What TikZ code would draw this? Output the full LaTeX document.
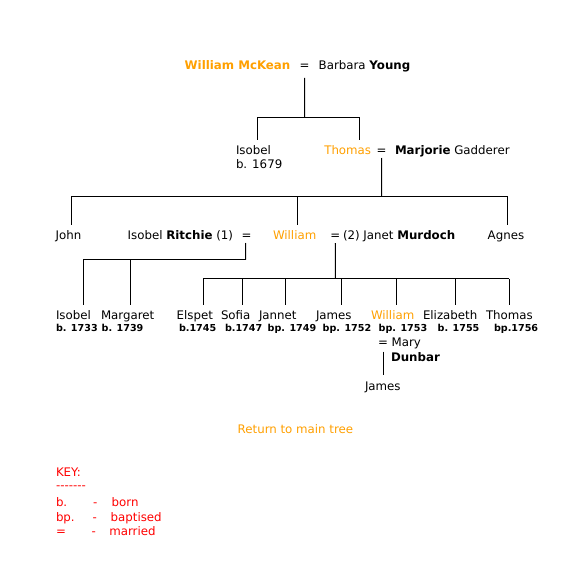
\documentclass[tikz,border=0pt]{standalone}
\usepackage{fontspec}
\setmainfont{DejaVu Sans}
\usetikzlibrary{positioning}
\definecolor{treeorange}{RGB}{255,160,0}
\definecolor{keyred}    {RGB}{255,0,0}

\begin{document}
\begin{tikzpicture}[x=1pt,y=-1pt,
  every node/.style={inner sep=0pt,outer sep=0pt,
                     font=\fontsize{11.8}{14}\selectfont},
  nm/.style={anchor=base west,text height=9pt,text depth=2.5pt},
  mck/.style={nm,text=treeorange},
  dt/.style={anchor=base west,font=\fontsize{9.6}{11}\selectfont\bfseries},
  kinline/.style={draw=black,line width=1pt},
  keytxt/.style={anchor=base west,text=keyred},
]
\useasboundingbox[fill=white] (0,0) rectangle (578,580);

%% Generation 1
\node[mck] (wmck)   at (184.7,69.5) {\textbf{William McKean}};
\node[nm]  (eqA)    at (299.7,69.5) {=};
\node[nm]  (byoung) at (318.7,69.5) {Barbara \textbf{Young}};

%% Generation 2
\node[nm]  (isobA)  at (236,155)   {Isobel};
\node[nm]  (isobAb) at (236,168.5) {b. 1679};
\node[mck] (thomA)  at (324.3,155) {Thomas};
\node[nm]  (eqB)    at (376.7,155) {=};
\node[nm]  (mgad)   at (395,155)   {\textbf{Marjorie} Gadderer};

%% Generation 3
\node[nm]  (john)   at (55.7,239.5)  {John};
\node[nm]  (iritch) at (127.7,239.5) {Isobel \textbf{Ritchie} (1)};
\node[nm]  (eqC)    at (241.7,239.5) {=};
\node[mck] (willB)  at (273,239.5)   {William};
\node[nm]  (eqD)    at (330.3,239.5) {=};
\node[nm]  (jmurd)  at (343,239.5)   {(2) Janet \textbf{Murdoch}};
\node[nm]  (agnes)  at (487.7,239.5) {Agnes};

%% Generation 4 -- first marriage
\node[nm] (isobC) at (56,319.3)  {Isobel};
\node[dt]         at (56,331.7)  {b. 1733};
\node[nm] (marg)  at (101,319.3) {Margaret};
\node[dt]         at (101.7,331.7) {b. 1739};

%% Generation 4 -- second marriage
\node[nm]  (elsp)  at (176.7,319.3) {Elspet};
\node[dt]          at (179,331.7)   {b.1745};
\node[nm]  (sofia) at (221,319.3)   {Sofia};
\node[dt]          at (225,331.7)   {b.1747};
\node[nm]  (jann)  at (259,319.3)   {Jannet};
\node[dt]          at (267.7,331.7) {bp. 1749};
\node[nm]  (jamC)  at (316,319.3)   {James};
\node[dt]          at (322.7,331.7) {bp. 1752};
\node[mck] (willC) at (371,319.3)   {William};
\node[dt]          at (378.7,331.7) {bp. 1753};
\node[nm]  (eliz)  at (423,319.3)   {Elizabeth};
\node[dt]          at (437.7,331.7) {b. 1755};
\node[nm]  (thomC) at (486,319.3)   {Thomas};
\node[dt]          at (494,331.7)   {bp.1756};

%% William's marriage
\node[nm] (eqE)   at (378.2,346) {=};
\node[nm] (mary)  at (391.7,346) {Mary};
\node[nm] (dunb)  at (391,361)   {\textbf{Dunbar}};
\node[nm] (jamD)  at (365,390)   {James};

%% Bar junctions
\coordinate (barA) at (304.5,117.3);
\coordinate (dIsobA) at (257.3,117.3);
\coordinate (dThomA) at (359.3,117.3);
\coordinate (barB) at (381.7,196);
\coordinate (dJohn)  at (71,196);
\coordinate (dWillB) at (297.3,196);
\coordinate (dAgnes) at (507.7,196);
\coordinate (barC) at (245.5,259.5);
\coordinate (dIsobC) at (83.3,259.5);
\coordinate (dMarg)  at (130.3,259.5);
\coordinate (barD) at (335.3,278.5);
\coordinate (dElsp)  at (203.3,278.5);
\coordinate (dSofia) at (242.7,278.5);
\coordinate (dJann)  at (285.7,278.5);
\coordinate (dJamC)  at (341.7,278.5);
\coordinate (dWillC) at (396.7,278.5);
\coordinate (dEliz)  at (455.3,278.5);
\coordinate (dThomC) at (509.3,278.5);

%% Connectors
\draw[kinline] ([yshift=-6pt]eqA.south) -- (barA);
\draw[kinline] (dIsobA) -- (dThomA);
\draw[kinline] (dIsobA) -- ([yshift=6pt]dIsobA |- isobA.north);
\draw[kinline] (dThomA) -- ([yshift=6pt]dThomA |- thomA.north);

\draw[kinline] ([yshift=-0.5pt]eqB.south) -- (barB);
\draw[kinline] (dJohn) -- (dAgnes);
\draw[kinline] (dJohn)  -- ([yshift=5.5pt]dJohn  |- john.north);
\draw[kinline] (dWillB) -- ([yshift=5.5pt]dWillB |- willB.north);
\draw[kinline] (dAgnes) -- ([yshift=5.5pt]dAgnes |- agnes.north);

\draw[kinline] ([xshift=-1pt,yshift=-1pt]eqC.south) -- (barC);
\draw[kinline] (dIsobC) -- (barC);
\draw[kinline] (dIsobC) -- ([yshift=5pt]dIsobC |- isobC.north);
\draw[kinline] (dMarg)  -- ([yshift=5pt]dMarg  |- marg.north);

\draw[kinline] ([yshift=-1pt]eqD.south) -- (barD);
\draw[kinline] (dElsp) -- (dThomC);
\foreach \kid/\drop in {elsp/dElsp,sofia/dSofia,jann/dJann,jamC/dJamC,
                        willC/dWillC,eliz/dEliz,thomC/dThomC}
  \draw[kinline] (\drop) -- ([yshift=5pt]\drop |- \kid.north);

\draw[kinline] ([yshift=-3pt]eqE.south) -- ([yshift=6pt]eqE.south |- jamD.north);

%% Link back
\node[anchor=base west,text=treeorange] (ret) at (237.7,433.3) {Return to main tree};

%% Key
\node[keytxt] (key)  at (56,476.7) {KEY:};
\node[keytxt] (rule) at (56,489)   {{-}{-}{-}{-}{-}{-}{-}};
\node[keytxt] at (56,506.7)  {b.};
\node[keytxt] at (93,506.7)  {-};
\node[keytxt] at (111.7,506.7) {born};
\node[keytxt] at (56,521)    {bp.};
\node[keytxt] at (92.7,521)  {-};
\node[keytxt] at (110.7,521) {baptised};
\node[keytxt] at (56,535)    {=};
\node[keytxt] at (91.7,535)  {-};
\node[keytxt] at (109.3,535) {married};
\end{tikzpicture}
\end{document}
